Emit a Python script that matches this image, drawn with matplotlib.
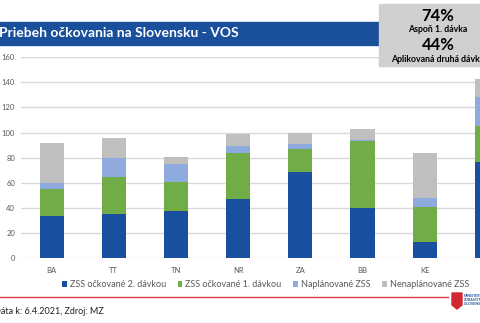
import matplotlib.pyplot as plt
import numpy as np
from matplotlib.patches import Rectangle, Polygon

plt.rcParams['font.family'] = ['Lato', 'DejaVu Sans']

regions = ["BA", "TT", "TN", "NR", "ZA", "BB", "KE", "PO"]
druha_davka = [34, 35, 38, 47, 69, 40, 13, 77]
prva_davka = [21, 30, 23, 37, 18, 53, 28, 28]
naplanovane = [5, 15, 14, 5, 4, 1, 7, 23]
nenaplanovane = [32, 16, 6, 10, 9, 9, 36, 15]
series_names = ["ZSS očkované 2. dávkou", "ZSS očkované 1. dávkou",
                "Naplánované ZSS", "Nenaplánované ZSS"]
colors = ["#1a4f9f", "#70ad47", "#8faadc", "#bfbfbf"]

fig = plt.figure(figsize=(4.8, 3.23), dpi=100)
ax = fig.add_axes([0.043, 0.2, 1.036, 0.623])

x = np.arange(len(regions))
bottom = np.zeros(len(regions))
for vals, name, c in zip([druha_davka, prva_davka, naplanovane, nenaplanovane],
                         series_names, colors):
    ax.bar(x, vals, width=0.39, bottom=bottom, color=c, label=name, zorder=3)
    bottom += np.array(vals)

ax.set_xlim(-0.5, len(regions) - 0.5)
ax.set_ylim(0, 160)
ax.set_yticks(range(0, 161, 20))
ax.set_xticks(x)
ax.set_xticklabels(regions)
ax.grid(axis="y", color="#d9d9d9", linewidth=1, zorder=0)
for s in ax.spines.values():
    s.set_visible(False)
ax.tick_params(length=0, labelsize=5.5, labelcolor="#595959")
ax.tick_params(axis="y", pad=4)
ax.tick_params(axis="x", pad=6)

# legend
handles, labels = ax.get_legend_handles_labels()
fig.legend(handles, labels, loc="center", bbox_to_anchor=(0.553, 0.118), ncol=4,
           frameon=False, fontsize=6.5, labelcolor="#595959", handlelength=0.55,
           handleheight=0.55, handletextpad=0.3, columnspacing=1.3)

# title banner
fig.patches.append(Rectangle((0, 1 - 45 / 323), 379 / 480, 23.5 / 323,
                             transform=fig.transFigure, color="#1a4f9c", zorder=1))
fig.text(-0.003, 1 - 33 / 323, "Priebeh očkovania na Slovensku - VOS", color="white",
         fontsize=10, fontweight="bold", va="center", ha="left")

# summary box
fig.patches.append(Rectangle((379 / 480, 1 - 66 / 323), 101 / 480, 62 / 323,
                             transform=fig.transFigure, color="#d0d0d0", zorder=1))
fig.text(438 / 480, 1 - 16 / 323, "74%", fontsize=12, fontweight="bold",
         ha="center", va="center")
fig.text(438 / 480, 1 - 30 / 323, "Aspoň 1. dávka", fontsize=6.3, fontweight="bold",
         ha="center", va="center")
fig.text(438 / 480, 1 - 45.5 / 323, "44%", fontsize=12, fontweight="bold",
         ha="center", va="center")
fig.text(438 / 480, 1 - 59.5 / 323, "Aplikovaná druhá dávka", fontsize=6.3,
         fontweight="bold", ha="center", va="center")

# red line and logo
fig.add_artist(plt.Line2D([0, 448 / 480], [1 - 297 / 323] * 2, color="#e03c3c",
                          linewidth=1, transform=fig.transFigure))
shield = Polygon([(px / 480, 1 - py / 323) for px, py in
                  [(452, 293), (462, 293), (462, 305), (457, 309), (452, 305)]],
                 closed=True, color="#d22630", transform=fig.transFigure)
fig.patches.append(shield)
fig.text(464 / 480, 1 - 300 / 323, "MINISTERSTVO\nZDRAVOTNÍCTVA\nSLOVENSKEJ REP.",
         fontsize=2.6, color="#1a4f9c", fontweight="bold", va="center", ha="left",
         linespacing=1.1)

# footer
fig.text(-0.012, 1 - 312 / 323, "Dáta k: 6.4.2021, Zdroj: MZ", fontsize=6.5,
         color="#222222", va="center", ha="left")

fig.savefig("out.png", dpi=100)
